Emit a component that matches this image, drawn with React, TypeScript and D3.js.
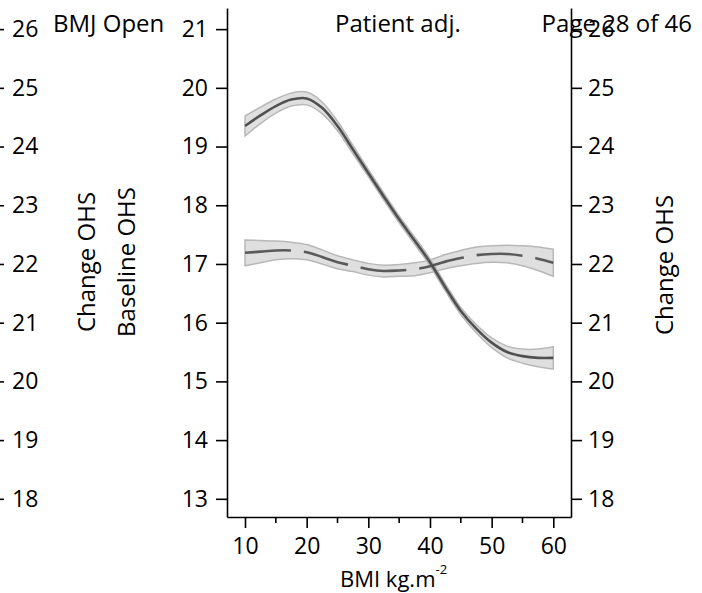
import React, { useRef, useEffect } from "react";
import * as d3 from "d3";

// BMI grid the curves were read at
const bmi = [10, 12.5, 15, 17.5, 20, 22.5, 25, 27.5, 30, 32.5, 35, 37.5, 40, 42.5, 45, 47.5, 50, 52.5, 55, 57.5, 60];

// Baseline OHS (left axis), solid line + band
const baselineMean = [19.35, 19.53, 19.69, 19.8, 19.82, 19.66, 19.35, 18.95, 18.55, 18.15, 17.76, 17.4, 17.03, 16.6, 16.2, 15.9, 15.66, 15.5, 15.43, 15.4, 15.4];
const baselineLow = [19.18, 19.39, 19.57, 19.69, 19.71, 19.56, 19.27, 18.88, 18.49, 18.09, 17.7, 17.34, 16.97, 16.54, 16.14, 15.83, 15.58, 15.4, 15.31, 15.25, 15.21];
const baselineHigh = [19.52, 19.67, 19.81, 19.91, 19.93, 19.76, 19.43, 19.02, 18.61, 18.21, 17.82, 17.46, 17.09, 16.66, 16.26, 15.97, 15.74, 15.6, 15.55, 15.55, 15.59];

// Change OHS (right axis), dashed line + band
const changeMean = [22.19, 22.21, 22.23, 22.23, 22.2, 22.12, 22.03, 21.97, 21.91, 21.88, 21.89, 21.91, 21.96, 22.04, 22.1, 22.15, 22.17, 22.17, 22.14, 22.09, 22.02];
const changeLow = [21.97, 22.02, 22.07, 22.09, 22.07, 22.0, 21.92, 21.87, 21.81, 21.78, 21.79, 21.8, 21.85, 21.92, 21.97, 22.01, 22.03, 22.02, 21.97, 21.89, 21.79];
const changeHigh = [22.41, 22.4, 22.39, 22.37, 22.33, 22.24, 22.14, 22.07, 22.01, 21.98, 21.99, 22.02, 22.07, 22.16, 22.23, 22.29, 22.31, 22.32, 22.31, 22.29, 22.25];

const xTicks = [10, 20, 30, 40, 50, 60];
const xMinorTicks = [15, 25, 35, 45, 55];
const leftTicks = [13, 14, 15, 16, 17, 18, 19, 20, 21];
const rightTicks = [18, 19, 20, 21, 22, 23, 24, 25, 26];

const FONT = "'Open Sans', sans-serif";

const App = () => {
  const ref = useRef<SVGSVGElement>(null);

  useEffect(() => {
    const svg = d3.select(ref.current);
    svg.selectAll("*").remove();

    const left = 227;
    const right = 571;
    const top = 8;
    const bottom = 517;

    const x = d3.scaleLinear().domain([7.08, 62.87]).range([left, right]);
    const yL = d3.scaleLinear().domain([12.69, 21.36]).range([bottom, top]);
    const yR = d3.scaleLinear().domain([17.69, 26.36]).range([bottom, top]);

    const styleAxis = (g: any, size: number) => {
      g.attr("font-family", FONT).attr("font-size", size);
      g.selectAll("path").attr("stroke", "#000").attr("stroke-width", 1.6);
      g.selectAll("line").attr("stroke", "#000").attr("stroke-width", 1.6);
      g.selectAll("text").attr("fill", "#000");
    };

    const curve = d3.curveCatmullRom.alpha(0.5);

    // bands
    const rows = bmi.map((b, i) => ({ b, i }));
    const bandL = d3
      .area<{ b: number; i: number }>()
      .x((d) => x(d.b))
      .y0((d) => yL(baselineLow[d.i]))
      .y1((d) => yL(baselineHigh[d.i]))
      .curve(curve);
    const bandR = d3
      .area<{ b: number; i: number }>()
      .x((d) => x(d.b))
      .y0((d) => yR(changeLow[d.i]))
      .y1((d) => yR(changeHigh[d.i]))
      .curve(curve);

    svg.append("path").datum(rows).attr("d", bandR)
      .attr("fill", "#d9d9d9").attr("fill-opacity", 0.85)
      .attr("stroke", "#b8b8b8").attr("stroke-width", 1.5);
    svg.append("path").datum(rows).attr("d", bandL)
      .attr("fill", "#d9d9d9").attr("fill-opacity", 0.85)
      .attr("stroke", "#b8b8b8").attr("stroke-width", 1.5);

    const lineL = d3
      .line<{ b: number; i: number }>()
      .x((d) => x(d.b))
      .y((d) => yL(baselineMean[d.i]))
      .curve(curve);
    const lineR = d3
      .line<{ b: number; i: number }>()
      .x((d) => x(d.b))
      .y((d) => yR(changeMean[d.i]))
      .curve(curve);

    svg.append("path").datum(rows).attr("d", lineR)
      .attr("fill", "none").attr("stroke", "#5a5a5a").attr("stroke-width", 2.6)
      .attr("stroke-dasharray", "46 13");
    svg.append("path").datum(rows).attr("d", lineL)
      .attr("fill", "none").attr("stroke", "#505050").attr("stroke-width", 2.6);

    // left axis (Baseline OHS)
    const gL = svg.append("g").attr("transform", `translate(${left},0)`)
      .call(d3.axisLeft(yL).tickValues(leftTicks).tickSize(11).tickSizeOuter(0).tickPadding(8));
    styleAxis(gL, 23);

    // right axis (Change OHS)
    const gR = svg.append("g").attr("transform", `translate(${right},0)`)
      .call(d3.axisRight(yR).tickValues(rightTicks).tickSize(11).tickSizeOuter(0).tickPadding(6));
    styleAxis(gR, 23);

    // far-left axis, mostly off the page
    const gF = svg.append("g").attr("transform", "translate(-7,0)")
      .call(d3.axisRight(yR).tickValues(rightTicks).tickSize(11).tickSizeOuter(0).tickPadding(8));
    styleAxis(gF, 23);

    // bottom axis
    const gB = svg.append("g").attr("transform", `translate(0,${bottom})`)
      .call(d3.axisBottom(x).tickValues(xTicks).tickSize(11).tickSizeOuter(0).tickPadding(8));
    styleAxis(gB, 23);
    gB.selectAll("text").attr("y", 37).attr("dy", 0);
    svg.append("g").attr("transform", `translate(0,${bottom})`)
      .selectAll("line").data(xMinorTicks).enter().append("line")
      .attr("x1", (d) => x(d)).attr("x2", (d) => x(d))
      .attr("y1", 0).attr("y2", 6)
      .attr("stroke", "#000").attr("stroke-width", 1.6);

    const txt = (tx: number, ty: number, s: string, anchor = "start", rot = 0) =>
      svg.append("text")
        .attr("transform", `translate(${tx},${ty}) rotate(${rot})`)
        .attr("text-anchor", anchor)
        .attr("font-family", FONT)
        .attr("font-size", 24)
        .attr("fill", "#000")
        .text(s);

    txt(53, 32, "BMJ Open");
    txt(335, 32, "Patient adj.");
    txt(692, 32, "Page 28 of 46", "end");

    txt(95, 262, "Change OHS", "middle", -90);
    txt(135, 262, "Baseline OHS", "middle", -90);
    txt(673, 265, "Change OHS", "middle", -90);

    const xl = svg.append("text")
      .attr("x", 340).attr("y", 587)
      .attr("font-family", FONT).attr("font-size", 22).attr("fill", "#000");
    xl.append("tspan").text("BMI kg.m");
    xl.append("tspan").attr("font-size", 13).attr("dy", -13).text("-2");
  }, []);

  return <svg ref={ref} width={702} height={593} style={{ position: "absolute", left: 0, top: 0 }} />;
};

export default App;
